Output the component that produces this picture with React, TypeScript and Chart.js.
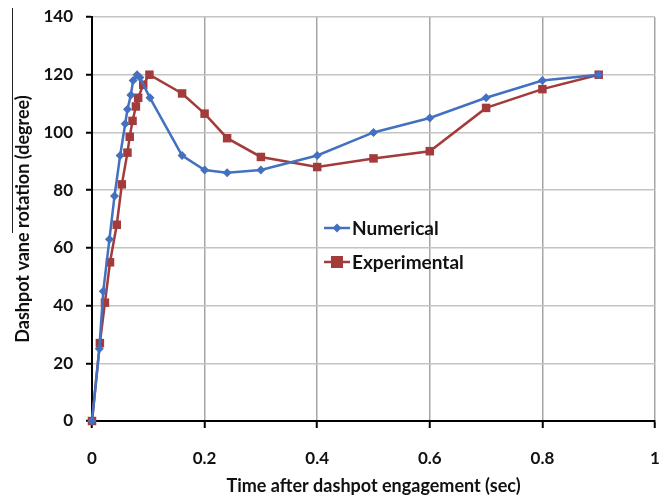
import React, { useEffect, useRef } from "react";
import { Chart, registerables } from "chart.js";

Chart.register(...registerables);

// Time after dashpot engagement (sec)
const numericalTime = [0, 0.013, 0.02, 0.031, 0.04, 0.05, 0.059, 0.063, 0.069, 0.073, 0.08, 0.085, 0.103, 0.16, 0.2, 0.24, 0.3, 0.4, 0.5, 0.6, 0.7, 0.8, 0.9];
// Dashpot vane rotation (degree)
const numericalRotation = [0, 25, 45, 63, 78, 92, 103, 108, 113, 118, 120, 119, 112, 92, 87, 86, 87, 92, 100, 105, 112, 118, 120];

const experimentalTime = [0, 0.014, 0.023, 0.032, 0.044, 0.053, 0.063, 0.067, 0.072, 0.078, 0.082, 0.091, 0.102, 0.16, 0.2, 0.24, 0.3, 0.4, 0.5, 0.6, 0.7, 0.8, 0.9];
const experimentalRotation = [0, 27, 41, 55, 68, 82, 93, 98.5, 104, 109, 112, 116.5, 120, 113.5, 106.5, 98, 91.5, 88, 91, 93.5, 108.5, 115, 120];

const seriesNames = ["Numerical", "Experimental"];
const BLUE = "#4470C0";
const RED = "#A33B3B";
const FONT = "Lato";

const toPoints = (xs: number[], ys: number[]) => xs.map((x, i) => ({ x, y: ys[i] }));

// Legend drawn inside the plot area, below the middle, plus the thin rule at the left edge
const insideLegend = {
  id: "insideLegend",
  afterDraw(chart: any) {
    const { ctx } = chart;
    ctx.save();
    ctx.strokeStyle = "#222";
    ctx.lineWidth = 1;
    ctx.beginPath();
    ctx.moveTo(12.5, 8);
    ctx.lineTo(12.5, 233);
    ctx.stroke();

    const items = [
      { label: seriesNames[0], color: BLUE, style: "rectRot", r: 4.5 },
      { label: seriesNames[1], color: RED, style: "rect", r: 6 },
    ];
    const x0 = 324;
    const y0 = 228;
    const gap = 34;
    items.forEach((it, i) => {
      const y = y0 + i * gap;
      ctx.strokeStyle = it.color;
      ctx.lineWidth = 2.5;
      ctx.beginPath();
      ctx.moveTo(x0, y);
      ctx.lineTo(x0 + 26, y);
      ctx.stroke();
      ctx.fillStyle = it.color;
      if (it.style === "rect") {
        ctx.fillRect(x0 + 13 - it.r, y - it.r, it.r * 2, it.r * 2);
      } else {
        ctx.beginPath();
        ctx.moveTo(x0 + 13, y - it.r);
        ctx.lineTo(x0 + 13 + it.r, y);
        ctx.lineTo(x0 + 13, y + it.r);
        ctx.lineTo(x0 + 13 - it.r, y);
        ctx.closePath();
        ctx.fill();
      }
      ctx.fillStyle = "#111";
      ctx.font = `bold 19px ${FONT}`;
      ctx.textBaseline = "middle";
      ctx.textAlign = "left";
      ctx.fillText(it.label, x0 + 28, y + 1);
    });
    ctx.restore();
  },
};

export default function App() {
  const canvasRef = useRef<HTMLCanvasElement | null>(null);

  useEffect(() => {
    if (!canvasRef.current) return;
    const chart = new Chart(canvasRef.current, {
      type: "line",
      data: {
        datasets: [
          {
            label: seriesNames[0],
            data: toPoints(numericalTime, numericalRotation),
            borderColor: BLUE,
            backgroundColor: BLUE,
            borderWidth: 2.5,
            pointStyle: "rectRot",
            pointRadius: 4.5,
            pointBorderWidth: 0,
            tension: 0,
            clip: false,
          },
          {
            label: seriesNames[1],
            data: toPoints(experimentalTime, experimentalRotation),
            borderColor: RED,
            backgroundColor: RED,
            borderWidth: 2.5,
            pointStyle: "rect",
            pointRadius: 6,
            pointBorderWidth: 0,
            tension: 0,
            clip: false,
          },
        ],
      },
      options: {
        responsive: false,
        animation: false,
        layout: { padding: { top: 17, right: 17, left: 0, bottom: 0 } },
        plugins: {
          legend: { display: false },
          tooltip: { enabled: false },
        },
        scales: {
          x: {
            type: "linear",
            min: 0,
            max: 1,
            ticks: {
              stepSize: 0.2,
              color: "#111",
              font: { family: FONT, size: 17, weight: "bold" },
              padding: 20,
              callback: (v: any) => String(Math.round(Number(v) * 10) / 10),
            },
            grid: {
              color: "#A6A6A6",
              lineWidth: 1.5,
              tickColor: "#000",
              tickLength: 7,
              tickWidth: 2,
            },
            border: { color: "#000", width: 2 },
            title: {
              display: true,
              text: "Time after dashpot engagement (sec)",
              color: "#111",
              font: { family: FONT, size: 18, weight: "bold" },
              padding: { top: 4, bottom: 0 },
            },
            afterFit(scale: any) {
              scale.height = 76;
              scale.paddingLeft = 0;
              scale.paddingRight = 0;
            },
          },
          y: {
            type: "linear",
            min: 0,
            max: 140,
            ticks: {
              stepSize: 20,
              color: "#111",
              font: { family: FONT, size: 17, weight: "bold" },
              padding: 13,
            },
            grid: {
              color: "#C4C4C4",
              lineWidth: 1.5,
              tickColor: "#000",
              tickLength: 6,
              tickWidth: 2,
            },
            border: { color: "#000", width: 2 },
            title: {
              display: true,
              text: "Dashpot vane rotation (degree)",
              color: "#111",
              font: { family: FONT, size: 18, weight: "bold" },
              padding: { top: 12, bottom: 0 },
            },
            afterFit(scale: any) {
              scale.width = 92;
              scale.paddingTop = 0;
              scale.paddingBottom = 0;
            },
          },
        },
      },
      plugins: [insideLegend],
    });
    return () => chart.destroy();
  }, []);

  return (
    <div style={{ position: "fixed", left: 0, top: 0, width: 672, height: 497, background: "#fff" }}>
      <canvas ref={canvasRef} width={672} height={497} style={{ display: "block" }} />
    </div>
  );
}
